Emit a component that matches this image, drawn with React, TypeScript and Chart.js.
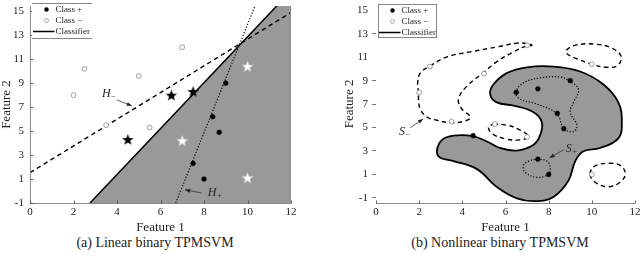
import React, { useEffect, useRef } from 'react';
import { Chart, registerables } from 'chart.js';

Chart.register(...registerables);
Chart.defaults.font.family = '"Liberation Serif", "Times New Roman", serif';

type P = [number, number];

// ---------- shared ticks / labels ----------
const xTicks = [0, 2, 4, 6, 8, 10, 12];
const yTicks = [-1, 1, 3, 5, 7, 9, 11, 13, 15];
const yTicksMarkedRight = [-1, 1, 3, 5, 7, 9, 13];
const legendLabels = ['Class +', 'Class \u2212', 'Classifier'];
const captionA = '(a) Linear binary TPMSVM';
const captionB = '(b) Nonlinear binary TPMSVM';

// ---------- (a) linear panel ----------
const linPlus: P[] = [[9, 9], [8.4, 6.2], [8.7, 4.9], [7.5, 2.3], [8, 1]];
const linMinus: P[] = [[2, 8], [2.5, 10.2], [3.5, 5.5], [5, 9.6], [5.5, 5.3], [7, 12]];
const linPlusWrong: P[] = [[4.5, 4.3], [6.5, 8], [7.5, 8.3]];
const linMinusWrong: P[] = [[7, 4.2], [10, 10.4], [10, 1.1]];
const classifierLine: P[] = [[2.76, -1], [12, 16.7]];
const hMinusLine: P[] = [[0, 1.53], [12, 14.9]];
const hPlusLine: P[] = [[6.7, -1], [10.6, 16.6]];

// ---------- (b) nonlinear panel ----------
const nlPlus: P[] = [[4.5, 4.3], [6.5, 8], [7.5, 8.3], [9, 9], [8.4, 6.2], [8.7, 4.9], [7.5, 2.3], [8, 1]];
const nlMinus: P[] = [[2, 8], [2.5, 10.2], [3.5, 5.5], [5, 9.6], [5.5, 5.3], [7, 4.2], [7, 12], [10, 10.4], [10, 1]];
const blob: P[] = [
  [2.82, 2.98], [3.06, 3.95], [3.59, 4.31], [4.44, 4.28], [5.14, 3.81], [5.75, 3.25], [6.53, 3.03],
  [7.3, 3.53], [7.61, 4.37], [7.68, 5.48], [7.3, 6.31], [6.37, 6.87], [5.6, 7.14], [5.29, 7.83],
  [5.44, 8.67], [6.06, 9.64], [6.99, 10.14], [8.22, 10.2], [9.46, 9.78], [10.54, 8.67], [11.23, 7.14],
  [11.39, 5.48], [11.23, 4.08], [10.38, 3.25], [9.61, 2.98], [9.23, 2.14], [8.92, 0.48], [8.22, -0.92],
  [7.38, -1.28], [6.53, -1.05], [5.6, -0.08], [4.68, 1.45], [3.59, 2.14], [2.98, 2.42],
];
const sPlusUpper: P[] = [
  [6.48, 7.98], [6.83, 8.81], [7.61, 9.23], [8.53, 9.31], [8.96, 8.97], [9.38, 8.25], [9.15, 7.14],
  [9.0, 6.31], [9.31, 5.2], [9.15, 4.64], [8.69, 4.92], [8.38, 6.17], [7.45, 7.0], [6.68, 7.42],
];
const sPlusLower: P[] = [
  [7.48, 2.28], [7.92, 2.14], [8.07, 1.58], [7.98, 1.0], [7.45, 0.75], [6.91, 1.17], [6.83, 1.72], [7.07, 2.14],
];
const sMinusBig: P[] = [
  [1.97, 7.98], [1.93, 8.81], [2.05, 9.64], [2.51, 10.25], [3.29, 11.03], [4.37, 11.45], [5.6, 11.87],
  [6.53, 12.2], [7.07, 12.14], [7.22, 12.0], [6.91, 11.92], [6.37, 11.45], [5.6, 10.62], [4.95, 9.64],
  [4.21, 8.53], [3.82, 7.42], [3.98, 6.58], [4.37, 5.89], [4.06, 5.53], [3.44, 5.42], [2.82, 5.62],
  [2.36, 5.89], [2.05, 6.58], [1.97, 7.42],
];
const sMinusSmall: P[] = [
  [5.44, 5.25], [6.06, 5.2], [6.68, 4.78], [7.07, 4.22], [6.68, 3.95], [5.99, 4.03], [5.37, 4.5], [5.21, 5.06],
];
const sMinusTopRight: P[] = [
  [8.82, 11.6], [9.3, 12.05], [10.2, 12.1], [10.9, 11.8], [11.35, 11.1], [11.2, 10.3], [10.69, 10.14],
  [10.0, 10.4], [9.2, 10.95], [8.85, 11.3],
];
const sMinusBottomRight: P[] = [
  [9.92, 1.03], [10.15, 1.72], [10.85, 1.95], [11.35, 1.72], [11.55, 1.03], [11.31, 0.33], [10.77, -0.05], [10.15, 0.33],
];

type Note = { main: string; sub: string; at: P; from: P; to: P };
const linNotes: Note[] = [
  { main: 'H', sub: '\u2212', at: [3.61, 8.07], from: [3.99, 7.6], to: [4.68, 7.11] },
  { main: 'H', sub: '+', at: [8.48, -0.15], from: [7.89, -0.17], to: [7.13, 0.11] },
];
const nlNotes: Note[] = [
  { main: 'S', sub: '\u2212', at: [1.31, 4.6], from: [1.59, 4.98], to: [2.18, 5.73] },
  { main: 'S', sub: '+', at: [9.04, 3.18], from: [8.72, 3.12], to: [8.04, 2.42] },
];

// ---------- styles ----------
const GREY = '#999999';
const AXIS = '#8a8a8a';
const TXT = '#222222';
const FONT = '"Liberation Serif", "Times New Roman", serif';

const pts = (a: P[]) => a.map(([x, y]) => ({ x, y }));

function makeStar(fill: string, stroke: string | null): HTMLCanvasElement {
  const c = document.createElement('canvas');
  c.width = 13;
  c.height = 13;
  const g = c.getContext('2d')!;
  g.beginPath();
  for (let i = 0; i < 10; i++) {
    const r = i % 2 === 0 ? 6 : 2.5;
    const a = -Math.PI / 2 + (i * Math.PI) / 5;
    const px = 6.5 + r * Math.cos(a);
    const py = 7 + r * Math.sin(a);
    if (i === 0) g.moveTo(px, py);
    else g.lineTo(px, py);
  }
  g.closePath();
  g.fillStyle = fill;
  g.fill();
  if (stroke) {
    g.strokeStyle = stroke;
    g.lineWidth = 0.6;
    g.stroke();
  }
  return c;
}

const closeLoops = {
  id: 'closeLoops',
  afterDatasetUpdate(chart: any, args: any) {
    const ds: any = chart.data.datasets[args.index];
    const line: any = args.meta && args.meta.dataset;
    if (ds && ds.closed && line) {
      line._loop = true;
      line._fullLoop = true;
      delete line._segments;
      line._pointsUpdated = false;
      line._path = undefined;
    }
  },
};

function notesPlugin(notes: Note[]) {
  return {
    id: 'notes',
    afterDatasetsDraw(chart: any) {
      const { ctx } = chart;
      const xs = chart.scales.x;
      const ys = chart.scales.y;
      ctx.save();
      for (const n of notes) {
        const ax = xs.getPixelForValue(n.from[0]);
        const ay = ys.getPixelForValue(n.from[1]);
        const bx = xs.getPixelForValue(n.to[0]);
        const by = ys.getPixelForValue(n.to[1]);
        ctx.strokeStyle = '#333';
        ctx.lineWidth = 0.8;
        ctx.setLineDash([]);
        ctx.beginPath();
        ctx.moveTo(ax, ay);
        ctx.lineTo(bx, by);
        ctx.stroke();
        const ang = Math.atan2(by - ay, bx - ax);
        const c = Math.cos(ang);
        const s = Math.sin(ang);
        ctx.fillStyle = '#222';
        ctx.beginPath();
        ctx.moveTo(bx, by);
        ctx.lineTo(bx - 5 * c + 2 * s, by - 5 * s - 2 * c);
        ctx.lineTo(bx - 5 * c - 2 * s, by - 5 * s + 2 * c);
        ctx.closePath();
        ctx.fill();
        const lx = xs.getPixelForValue(n.at[0]);
        const ly = ys.getPixelForValue(n.at[1]);
        ctx.font = `italic 12px ${FONT}`;
        const w = ctx.measureText(n.main).width;
        ctx.font = `8px ${FONT}`;
        const sw = ctx.measureText(n.sub).width;
        const left = lx - (w + sw) / 2;
        ctx.textBaseline = 'middle';
        ctx.textAlign = 'left';
        ctx.fillStyle = TXT;
        ctx.font = `italic 12px ${FONT}`;
        ctx.fillText(n.main, left, ly);
        ctx.font = `8px ${FONT}`;
        ctx.fillText(n.sub, left + w + 0.5, ly + 3);
      }
      ctx.restore();
    },
  };
}

function legendPlugin(box: { x: number; y: number; w: number; h: number; sides: boolean }) {
  return {
    id: 'boxLegend',
    afterDraw(chart: any) {
      const { ctx } = chart;
      ctx.save();
      ctx.fillStyle = '#fff';
      ctx.fillRect(box.x, box.y, box.w, box.h);
      ctx.strokeStyle = '#666';
      ctx.lineWidth = 0.8;
      ctx.setLineDash([]);
      ctx.beginPath();
      ctx.moveTo(box.x, box.y + 0.5);
      ctx.lineTo(box.x + box.w, box.y + 0.5);
      ctx.moveTo(box.x, box.y + box.h - 0.5);
      ctx.lineTo(box.x + box.w, box.y + box.h - 0.5);
      if (box.sides) {
        ctx.moveTo(box.x + 0.5, box.y);
        ctx.lineTo(box.x + 0.5, box.y + box.h);
        ctx.moveTo(box.x + box.w - 0.5, box.y);
        ctx.lineTo(box.x + box.w - 0.5, box.y + box.h);
      }
      ctx.stroke();
      const mx = box.x + 14.5;
      const tx = box.x + 23.5;
      ctx.font = `9px ${FONT}`;
      ctx.textBaseline = 'middle';
      ctx.textAlign = 'left';
      legendLabels.forEach((lab, i) => {
        const ry = box.y + 6.5 + i * 11;
        if (i === 0) {
          ctx.fillStyle = '#000';
          ctx.beginPath();
          ctx.arc(mx, ry, 2.2, 0, Math.PI * 2);
          ctx.fill();
        } else if (i === 1) {
          ctx.strokeStyle = '#888';
          ctx.lineWidth = 0.7;
          ctx.beginPath();
          ctx.arc(mx, ry, 2, 0, Math.PI * 2);
          ctx.stroke();
        } else {
          ctx.strokeStyle = '#000';
          ctx.lineWidth = 1.5;
          ctx.beginPath();
          ctx.moveTo(box.x + 1, ry);
          ctx.lineTo(tx - 1, ry);
          ctx.stroke();
        }
        ctx.fillStyle = TXT;
        ctx.fillText(lab, tx, ry + 0.5);
      });
      ctx.restore();
    },
  };
}

function framePlugin(kind: 'box' | 'bottom') {
  return {
    id: 'frame',
    afterDatasetsDraw(chart: any) {
      const { ctx, chartArea: a } = chart;
      const xs = chart.scales.x;
      const ys = chart.scales.y;
      ctx.save();
      ctx.strokeStyle = AXIS;
      ctx.lineWidth = 1;
      ctx.setLineDash([]);
      ctx.beginPath();
      const b = Math.round(a.bottom) + 0.5;
      ctx.moveTo(a.left, b);
      ctx.lineTo(a.right, b);
      if (kind === 'box') {
        const l = Math.round(a.left) + 0.5;
        const r = Math.round(a.right) - 0.5;
        ctx.moveTo(l, a.top);
        ctx.lineTo(l, b);
        ctx.moveTo(r, a.top);
        ctx.lineTo(r, b);
      }
      ctx.stroke();
      ctx.strokeStyle = '#444';
      ctx.lineWidth = 0.8;
      ctx.beginPath();
      xTicks.forEach((v) => {
        const px = Math.round(xs.getPixelForValue(v)) + 0.5;
        ctx.moveTo(px, b);
        ctx.lineTo(px, b - 3);
      });
      if (kind === 'box') {
        const l = Math.round(a.left) + 0.5;
        yTicks.forEach((v) => {
          const py = Math.round(ys.getPixelForValue(v)) + 0.5;
          ctx.moveTo(l, py);
          ctx.lineTo(l + 3, py);
        });
      }
      ctx.stroke();
      ctx.restore();
    },
  };
}

function baseScales(opts: {
  yWidth: number;
  yMin: number;
  yMax: number;
  yTitlePad: number;
  yTickPad: number;
  yTickLen: number;
  yTickColor: (c: any) => string;
}) {
  return {
    x: {
      type: 'linear',
      min: 0,
      max: 12,
      afterBuildTicks: (s: any) => {
        s.ticks = xTicks.map((v) => ({ value: v }));
      },
      afterFit: (s: any) => {
        s.height = 32;
        s.paddingLeft = 0;
        s.paddingRight = 0;
      },
      grid: { display: false, drawTicks: false },
      border: { display: false },
      ticks: { padding: 3, color: TXT, font: { size: 11 }, autoSkip: false, maxRotation: 0 },
      title: { display: true, text: 'Feature 1', color: TXT, font: { size: 13 }, padding: { top: 0, bottom: 0 } },
    },
    y: {
      type: 'linear',
      min: opts.yMin,
      max: opts.yMax,
      afterBuildTicks: (s: any) => {
        s.ticks = yTicks.map((v) => ({ value: v }));
      },
      afterFit: (s: any) => {
        s.width = opts.yWidth;
        s.paddingTop = 0;
        s.paddingBottom = 0;
      },
      grid: {
        display: opts.yTickLen > 0,
        drawOnChartArea: false,
        drawTicks: opts.yTickLen > 0,
        tickLength: opts.yTickLen,
        tickColor: opts.yTickColor,
        tickWidth: 0.8,
      },
      border: { display: false },
      ticks: { padding: opts.yTickPad, color: TXT, font: { size: 11 }, autoSkip: false },
      title: {
        display: true,
        text: 'Feature 2',
        color: TXT,
        font: { size: 13, lineHeight: 1 },
        padding: { top: opts.yTitlePad, bottom: 0 },
      },
    },
  };
}

function linearConfig(): any {
  const starBlack = makeStar('#000', null);
  const starWhite = makeStar('#fff', '#bbb');
  return {
    type: 'line',
    data: {
      datasets: [
        { data: pts(linPlusWrong), showLine: false, pointStyle: starBlack, pointRadius: 5, order: 0 },
        { data: pts(linMinusWrong), showLine: false, pointStyle: starWhite, pointRadius: 5, order: 0 },
        {
          data: pts(linPlus), showLine: false, pointRadius: 2.4, pointBackgroundColor: '#000',
          pointBorderColor: '#000', pointBorderWidth: 0.5, order: 0,
        },
        {
          data: pts(linMinus), showLine: false, pointRadius: 2.4, pointBackgroundColor: '#fff',
          pointBorderColor: '#888', pointBorderWidth: 0.8, order: 0,
        },
        { data: pts(hPlusLine), borderColor: '#000', borderWidth: 1.2, borderDash: [1.2, 1.8], pointRadius: 0, order: 1 },
        { data: pts(hMinusLine), borderColor: '#000', borderWidth: 1.4, borderDash: [4.5, 3.5], pointRadius: 0, order: 1 },
        {
          data: pts(classifierLine), borderColor: '#000', borderWidth: 1.5, backgroundColor: GREY,
          fill: 'start', pointRadius: 0, order: 2,
        },
      ],
    },
    options: {
      responsive: false,
      animation: false,
      devicePixelRatio: 1,
      layout: { padding: { left: 0, right: 29, top: 0, bottom: 0 } },
      plugins: { legend: { display: false }, tooltip: { enabled: false } },
      scales: baseScales({
        yWidth: 30, yMin: -1, yMax: 15.44, yTitlePad: 0, yTickPad: 6, yTickLen: 0,
        yTickColor: () => 'transparent',
      }),
    },
    plugins: [framePlugin('box'), notesPlugin(linNotes), legendPlugin({ x: 32, y: 3, w: 60, h: 36, sides: false })],
  };
}

function nonlinearConfig(): any {
  const contour = (d: P[], dash: number[], width: number, extra: any = {}) => ({
    data: pts(d), closed: true, tension: 0.4, borderColor: '#000', borderWidth: width,
    borderDash: dash, pointRadius: 0, fill: false, order: 1, ...extra,
  });
  return {
    type: 'line',
    data: {
      datasets: [
        {
          data: pts(nlPlus), showLine: false, pointRadius: 2.4, pointBackgroundColor: '#000',
          pointBorderColor: '#000', pointBorderWidth: 0.5, order: 0,
        },
        {
          data: pts(nlMinus), showLine: false, pointRadius: 2.4, pointBackgroundColor: '#fff',
          pointBorderColor: '#888', pointBorderWidth: 0.8, order: 0,
        },
        contour(sPlusUpper, [1.2, 1.8], 1.2),
        contour(sPlusLower, [1.2, 1.8], 1.2),
        contour(sMinusBig, [4.5, 3.5], 1.4),
        contour(sMinusSmall, [4.5, 3.5], 1.4),
        contour(sMinusTopRight, [4.5, 3.5], 1.4),
        contour(sMinusBottomRight, [4.5, 3.5], 1.4),
        contour(blob, [], 1.8, { fill: 'shape', backgroundColor: GREY, order: 2 }),
      ],
    },
    options: {
      responsive: false,
      animation: false,
      devicePixelRatio: 1,
      layout: { padding: { left: 0, right: 5, top: 0, bottom: 0 } },
      plugins: { legend: { display: false }, tooltip: { enabled: false } },
      scales: baseScales({
        yWidth: 56, yMin: -1.44, yMax: 15.47, yTitlePad: 23.5, yTickPad: 4, yTickLen: 4,
        yTickColor: (c: any) => (c.tick && yTicksMarkedRight.includes(c.tick.value) ? '#555' : 'transparent'),
      }),
    },
    plugins: [closeLoops, framePlugin('bottom'), notesPlugin(nlNotes), legendPlugin({ x: 58, y: 4, w: 59, h: 34, sides: true })],
  };
}

function ChartPanel({ left, make }: { left: number; make: () => any }) {
  const ref = useRef<HTMLCanvasElement | null>(null);
  useEffect(() => {
    if (!ref.current) return;
    const chart = new Chart(ref.current, make());
    return () => chart.destroy();
  }, []);
  return (
    <div style={{ position: 'absolute', left, top: 0, width: 320, height: 235 }}>
      <canvas ref={ref} width={320} height={235} style={{ display: 'block', width: 320, height: 235 }} />
    </div>
  );
}

const captionStyle: React.CSSProperties = {
  position: 'absolute',
  top: 235,
  width: 320,
  textAlign: 'center',
  fontFamily: FONT,
  fontSize: 14,
  lineHeight: '16px',
  color: TXT,
  whiteSpace: 'nowrap',
};

export default function App() {
  return (
    <div style={{ position: 'fixed', left: 0, top: 0, width: 640, height: 258, background: '#fff', overflow: 'hidden' }}>
      <ChartPanel left={0} make={linearConfig} />
      <ChartPanel left={320} make={nonlinearConfig} />
      <div style={{ ...captionStyle, left: -5 }}>{captionA}</div>
      <div style={{ ...captionStyle, left: 340 }}>{captionB}</div>
    </div>
  );
}
